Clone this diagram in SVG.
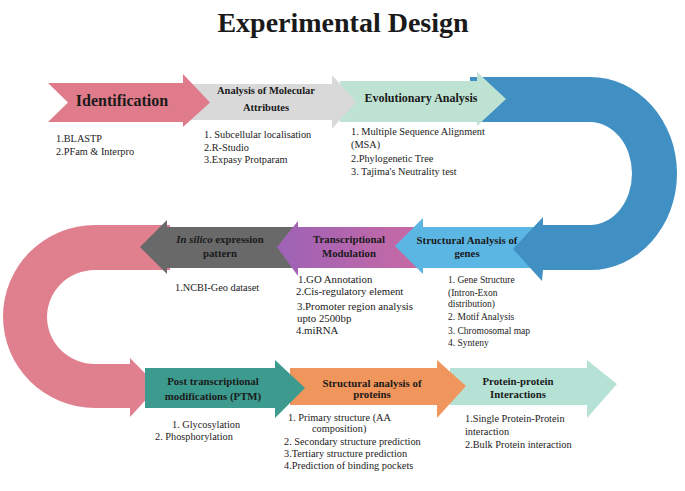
<svg xmlns="http://www.w3.org/2000/svg" width="685" height="491" viewBox="0 0 685 491">
<defs>
<linearGradient id="gPurple" x1="0" y1="0" x2="1" y2="0">
<stop offset="0" stop-color="#9d62b6"/>
<stop offset="1" stop-color="#c96aa4"/>
</linearGradient>
<style>
.t{font-family:"Liberation Serif","Times New Roman",serif;fill:#1a1a1a}
.h{font-weight:bold;text-anchor:middle}
.l{font-size:10.3px;fill:#222}
</style>
</defs>
<rect width="685" height="491" fill="#ffffff"/>
<text class="t h" x="343" y="31.5" font-size="28">Experimental Design</text>

<g id="connectors">
<path id="u-left" d="M170,225 L95,225 A92,91.5 0 0 0 95,408 L130,408 L130,417 L158,386.5 L130,358 L130,364 L95,364 A48,47 0 0 1 95,270 L170,270 Z" fill="#e07f8d"/>
</g>

<g id="n9">
<path d="M450,368 L587,368 L587,360 L617,384 L587,418 L587,405 L450,405 Z" fill="#b6e2d5"/>
<text class="t h" x="518" y="384.5" font-size="10.8">Protein-protein</text>
<text class="t h" x="518" y="398" font-size="10.8">Interactions</text>
<text class="t l" x="465" y="422">1.Single Protein-Protein</text>
<text class="t l" x="465" y="434.5">interaction</text>
<text class="t l" x="465" y="447.5">2.Bulk Protein interaction</text>
</g>

<g id="n8">
<path d="M290,368 L437,368 L437,360 L466,386 L437,418 L437,405 L290,405 Z" fill="#f0955b"/>
<text class="t h" x="372" y="387" font-size="10.8">Structural analysis of</text>
<text class="t h" x="372" y="397.5" font-size="10.8">proteins</text>
<text class="t l" x="288" y="420.5">1. Primary structure (AA</text>
<text class="t l" x="312" y="432">composition)</text>
<text class="t l" x="284" y="444.5">2. Secondary structure prediction</text>
<text class="t l" x="284" y="457">3.Tertiary structure prediction</text>
<text class="t l" x="284" y="469">4.Prediction of binding pockets</text>
</g>

<g id="n7">
<path d="M145,368 L275,368 L275,360 L305,388 L275,418 L275,408 L145,408 Z" fill="#3d9a8e"/>
<text class="t h" x="213" y="384.5" font-size="10.8">Post transcriptional</text>
<text class="t h" x="213" y="399.5" font-size="10.8">modifications (PTM)</text>
<text class="t l" x="172" y="427.5">1. Glycosylation</text>
<text class="t l" x="155" y="439.5">2. Phosphorylation</text>
</g>

<g id="n6">
<path d="M300,227 L167,227 L167,220 L140,247 L167,274 L167,268 L300,268 Z" fill="#696969"/>
<text class="t h" x="220" y="242.5" font-size="10.8"><tspan font-style="italic">In silico</tspan> expression</text>
<text class="t h" x="220" y="257" font-size="10.8">pattern</text>
<text class="t l" x="175" y="290.5">1.NCBI-Geo dataset</text>
</g>

<g id="n5">
<path d="M425,227 L298,227 L298,221 L277,247 L298,276 L298,268 L425,268 Z" fill="url(#gPurple)"/>
<text class="t h" x="349" y="242.5" font-size="10.8">Transcriptional</text>
<text class="t h" x="349" y="257" font-size="10.8">Modulation</text>
<text class="t" x="298" y="282.5" font-size="10.8">1.GO Annotation</text>
<text class="t" x="296" y="294.5" font-size="10.8">2.Cis-regulatory element</text>
<text class="t" x="297" y="310" font-size="10.8">3.Promoter region analysis</text>
<text class="t" x="297" y="321.5" font-size="10.8">upto 2500bp</text>
<text class="t" x="296" y="333.5" font-size="10.8">4.miRNA</text>
</g>

<g id="n4">
<path d="M550,227 L423,227 L423,218 L395,246 L423,274 L423,268 L550,268 Z" fill="#5cb6e3"/>
<text class="t h" x="467" y="243.5" font-size="10.8">Structural Analysis of</text>
<text class="t h" x="467" y="257" font-size="10.8">genes</text>
<text class="t" x="448" y="283" font-size="9.5">1. Gene Structure</text>
<text class="t" x="448" y="295.5" font-size="9.5">(Intron-Exon</text>
<text class="t" x="448" y="307" font-size="9.5">distribution)</text>
<text class="t" x="448" y="320" font-size="9.5">2. Motif Analysis</text>
<text class="t" x="448" y="333.5" font-size="9.5">3. Chromosomal map</text>
<text class="t" x="448" y="346" font-size="9.5">4. Synteny</text>
</g>

<g id="u-right">
<path d="M470,77 L590,77 A87,96.5 0 0 1 590,270 L543,270 L542,281 L513,249 L543,217 L543,225 L590,225 A42,51.5 0 0 0 590,122 L470,122 Z" fill="#4190c3"/>
</g>

<g id="n3">
<path d="M340,81 L477,81 L477,72 L506,99 L477,126 L477,122 L340,122 Z" fill="#bfe3d3"/>
<text class="t h" x="421" y="102" font-size="12">Evolutionary Analysis</text>
<text class="t l" x="351" y="134.5">1. Multiple Sequence Alignment</text>
<text class="t l" x="351" y="148">(MSA)</text>
<text class="t l" x="351" y="161.5">2.Phylogenetic Tree</text>
<text class="t l" x="351" y="174.5">3. Tajima's Neutrality test</text>
</g>

<g id="n2">
<path d="M175,84 L332,84 L332,75 L356,102 L332,129 L332,120 L175,120 Z" fill="#d9d9d9"/>
<text class="t h" x="266" y="94" font-size="10.5">Analysis of Molecular</text>
<text class="t h" x="266" y="111" font-size="10.5">Attributes</text>
<text class="t l" x="204" y="137.5">1. Subcellular localisation</text>
<text class="t l" x="204" y="150.5">2.R-Studio</text>
<text class="t l" x="204" y="163">3.Expasy Protparam</text>
</g>

<g id="n1">
<path d="M48,83 L183,83 L183,74 L210,102.5 L183,127 L183,122 L48,122 L68,102.5 Z" fill="#e07b8b"/>
<text class="t h" x="122" y="106" font-size="16">Identification</text>
<text class="t l" x="56" y="142">1.BLASTP</text>
<text class="t l" x="56" y="155">2.PFam &amp; Interpro</text>
</g>
</svg>
